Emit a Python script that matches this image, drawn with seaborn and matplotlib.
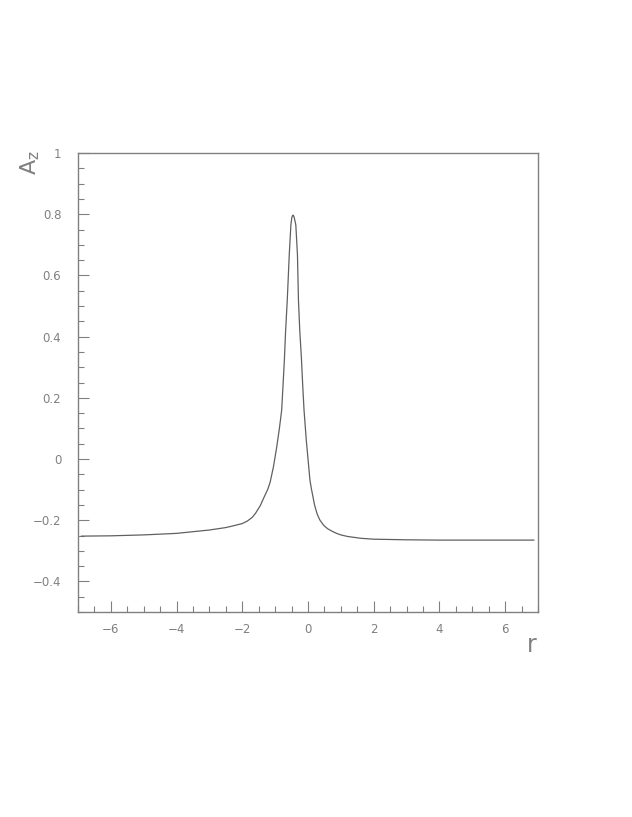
import pandas as pd
import matplotlib.pyplot as plt
import seaborn as sns
from matplotlib.ticker import MultipleLocator

# valores
r_vals = [-6.9, -6.0, -5.0, -4.0, -3.0, -2.5, -2.3, -2.0, -1.85, -1.7,
          -1.6, -1.45, -1.35, -1.22, -1.15, -1.05, -0.95, -0.87, -0.80, -0.76,
          -0.72, -0.68, -0.63, -0.57, -0.52, -0.49, -0.47, -0.455, -0.44, -0.42,
          -0.37, -0.32, -0.29, -0.25, -0.2, -0.16, -0.12, -0.05, 0.06, 0.1,
          0.2, 0.28, 0.36, 0.48, 0.6, 0.75, 0.87, 1.0, 1.2, 1.6,
          2.0, 3.0, 4.0, 5.0, 6.0, 6.88]
az_vals = [-0.252, -0.251, -0.248, -0.243, -0.232, -0.224, -0.219, -0.211, -0.203, -0.191,
           -0.178, -0.152, -0.128, -0.098, -0.075, -0.025, 0.040, 0.100, 0.160, 0.240,
           0.320, 0.420, 0.520, 0.667, 0.765, 0.790, 0.795, 0.797, 0.795, 0.790,
           0.765, 0.667, 0.520, 0.420, 0.330, 0.240, 0.160, 0.060, -0.069, -0.095,
           -0.150, -0.180, -0.199, -0.217, -0.228, -0.237, -0.243, -0.248, -0.253, -0.259,
           -0.262, -0.264, -0.265, -0.265, -0.265, -0.265]

df = pd.DataFrame({'r': r_vals, 'Az': az_vals})

sns.set_style("ticks")
plt.rcParams['font.family'] = ['DejaVu Sans']

grey = '#808080'
fig = plt.figure(figsize=(6.32, 8.17), dpi=100)
ax = fig.add_axes([0.1234, 0.2509, 0.7278, 0.5618])

sns.lineplot(data=df, x='r', y='Az', ax=ax, color='#606060', linewidth=0.9, sort=False)

ax.set_xlim(-7, 7)
ax.set_ylim(-0.5, 1)
ax.xaxis.set_major_locator(MultipleLocator(2))
ax.xaxis.set_minor_locator(MultipleLocator(0.5))
ax.yaxis.set_major_locator(MultipleLocator(0.2))
ax.yaxis.set_minor_locator(MultipleLocator(0.05))
ax.yaxis.set_major_formatter(plt.FuncFormatter(lambda v, p: f"{v:g}".replace('-', '\u2212')))

for s in ax.spines.values():
    s.set_color(grey)
    s.set_linewidth(1.0)

ax.tick_params(which='both', direction='in', colors=grey, labelcolor=grey, labelsize=8.5, width=0.8)
ax.tick_params(which='major', length=8)
ax.tick_params(which='minor', length=4)
ax.tick_params(axis='y', pad=12)
ax.tick_params(axis='x', pad=8)

ax.set_xlabel('')
ax.set_ylabel('')
fig.text(532 / 632, 1 - 645 / 817, 'r', color=grey, fontsize=17, ha='center', va='center')
fig.text(30 / 632, 1 - 163 / 817, r'$\mathregular{A_z}$', color=grey, fontsize=16,
         rotation=90, ha='center', va='center')

fig.savefig('out.png', dpi=100)
